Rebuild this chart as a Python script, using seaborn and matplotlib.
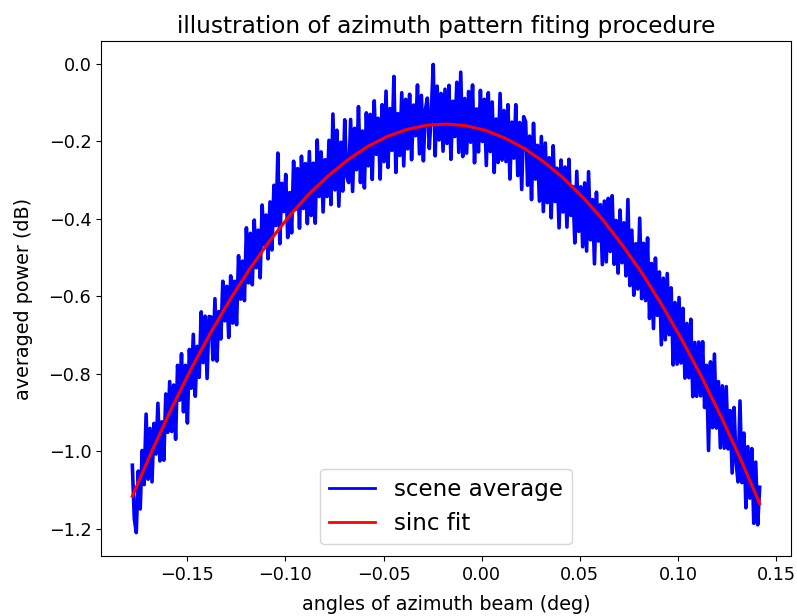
import numpy as np
import pandas as pd
import matplotlib
matplotlib.use("Agg")
import matplotlib.pyplot as plt
import seaborn as sns

# ---- data ----
angle_start = -0.178
angle_stop = 0.1416

scene_average = [
    -1.036, -1.174, -1.210, -1.051, -1.149, -0.998, -1.086, -0.904, -1.072, -0.941,
    -1.079, -0.928, -1.007, -0.876, -1.025, -0.924, -1.023, -0.852, -0.951, -0.820,
    -0.949, -0.829, -0.969, -0.778, -0.868, -0.748, -0.898, -0.778, -0.927, -0.737,
    -0.837, -0.698, -0.858, -0.729, -0.809, -0.640, -0.771, -0.651, -0.812, -0.652,
    -0.653, -0.764, -0.606, -0.767, -0.639, -0.710, -0.561, -0.663, -0.574, -0.706,
    -0.547, -0.669, -0.561, -0.673, -0.495, -0.607, -0.509, -0.611, -0.423, -0.565,
    -0.437, -0.570, -0.403, -0.526, -0.429, -0.552, -0.364, -0.467, -0.390, -0.503,
    -0.356, -0.480, -0.313, -0.417, -0.230, -0.464, -0.308, -0.381, -0.285, -0.448,
    -0.332, -0.436, -0.251, -0.375, -0.270, -0.424, -0.238, -0.373, -0.257, -0.412,
    -0.226, -0.391, -0.256, -0.411, -0.196, -0.342, -0.227, -0.382, -0.247, -0.342,
    -0.197, -0.363, -0.129, -0.325, -0.171, -0.367, -0.202, -0.328, -0.144, -0.290,
    -0.306, -0.143, -0.329, -0.166, -0.273, -0.110, -0.306, -0.173, -0.320, -0.126,
    -0.263, -0.130, -0.298, -0.095, -0.233, -0.140, -0.297, -0.105, -0.252, -0.070,
    -0.267, -0.115, -0.223, -0.032, -0.280, -0.128, -0.236, -0.074, -0.263, -0.091,
    -0.219, -0.078, -0.247, -0.106, -0.185, -0.054, -0.232, -0.081, -0.250, -0.119,
    -0.088, -0.218, -0.128, -0.001, -0.237, -0.057, -0.196, -0.076, -0.225, -0.065,
    -0.205, -0.055, -0.246, -0.096, -0.187, -0.047, -0.228, -0.021, -0.239, -0.089,
    -0.230, -0.071, -0.202, -0.054, -0.255, -0.116, -0.227, -0.068, -0.200, -0.091,
    -0.262, -0.074, -0.226, -0.098, -0.280, -0.142, -0.254, -0.076, -0.248, -0.120,
    -0.252, -0.105, -0.297, -0.150, -0.243, -0.105, -0.288, -0.151, -0.324, -0.136,
    -0.149, -0.313, -0.186, -0.350, -0.153, -0.297, -0.210, -0.354, -0.187, -0.381,
    -0.204, -0.358, -0.242, -0.397, -0.211, -0.355, -0.269, -0.423, -0.248, -0.382,
    -0.266, -0.421, -0.246, -0.391, -0.316, -0.462, -0.277, -0.432, -0.317, -0.472,
    -0.307, -0.483, -0.278, -0.454, -0.350, -0.516, -0.331, -0.457, -0.363, -0.518,
    -0.354, -0.511, -0.347, -0.484, -0.340, -0.517, -0.404, -0.540, -0.377, -0.513,
    -0.410, -0.547, -0.350, -0.572, -0.429, -0.597, -0.464, -0.581, -0.398, -0.606,
    -0.463, -0.611, -0.449, -0.657, -0.515, -0.683, -0.501, -0.649, -0.537, -0.725,
    -0.553, -0.712, -0.541, -0.699, -0.578, -0.777, -0.616, -0.775, -0.603, -0.772,
    -0.631, -0.811, -0.670, -0.810, -0.659, -0.859, -0.719, -0.858, -0.718, -0.857,
    -0.717, -0.887, -0.778, -0.998, -0.769, -0.939, -0.749, -0.940, -0.820, -0.991,
    -0.831, -0.992, -0.833, -0.994, -0.895, -1.056, -0.887, -1.028, -1.079, -0.870,
    -1.081, -0.953, -1.146, -0.988, -1.121, -0.993, -1.186, -1.028, -1.190, -1.093,
]

sinc_fit = [
    -1.116, -0.999, -0.889, -0.787, -0.693, -0.607, -0.528, -0.457, -0.393, -0.336,
    -0.288, -0.247, -0.213, -0.187, -0.169, -0.158, -0.155, -0.159, -0.171, -0.191,
    -0.218, -0.253, -0.295, -0.345, -0.402, -0.468, -0.540, -0.621, -0.709, -0.804,
    -0.907, -1.017, -1.135,
]

scene_angles = np.linspace(angle_start, angle_stop, len(scene_average))
fit_angles = np.linspace(angle_start, angle_stop, len(sinc_fit))

title_text = "illustration of azimuth pattern fiting procedure"
xlabel_text = "angles of azimuth beam (deg)"
ylabel_text = "averaged power (dB)"
legend_labels = ["scene average", "sinc fit"]

df_scene = pd.DataFrame({"angle": scene_angles, "power": scene_average})
df_fit = pd.DataFrame({"angle": fit_angles, "power": sinc_fit})

# ---- figure ----
fig = plt.figure(figsize=(7.97, 6.16), dpi=100)
ax = fig.add_axes([0.1267, 0.0974, 0.9925 - 0.1267, 0.9334 - 0.0974])

sns.lineplot(data=df_scene, x="angle", y="power", ax=ax, color="blue",
             linewidth=2.6, estimator=None, label=legend_labels[0])
sns.lineplot(data=df_fit, x="angle", y="power", ax=ax, color="red",
             linewidth=2.2, estimator=None, label=legend_labels[1])

ax.set_title(title_text, fontsize=16.7)
ax.set_xlabel(xlabel_text, fontsize=13.8, labelpad=8)
ax.set_ylabel(ylabel_text, fontsize=13.8, labelpad=11)
ax.tick_params(labelsize=12.7)
leg = ax.legend(loc="lower center", fontsize=16.6)
for line in leg.get_lines():
    line.set_linewidth(2.0)

fig.savefig("out.png", dpi=100)
